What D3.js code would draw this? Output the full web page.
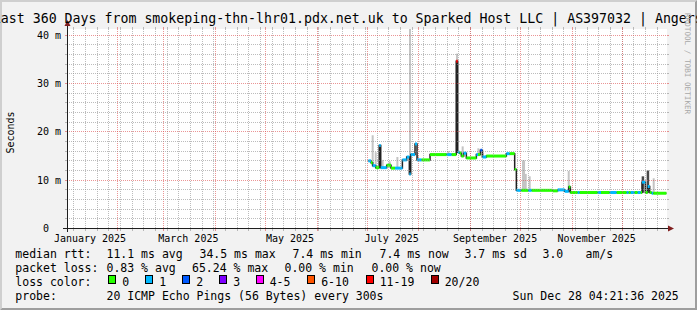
<!DOCTYPE html>
<html>
  <head>
    <meta charset="utf-8">
    <title>smokeping</title>
    <script src="https://d3js.org/d3.v7.min.js"></script>
    <style>
      body { margin: 0; }
      svg { display: block; }
      text { font-family: "DejaVu Sans Mono", monospace; fill: #000; white-space: pre; }
    </style>
  </head>
  <body>
    <svg width="697" height="310"></svg>

  <script>
    // time span of the graph
    var startTime = "2025-01-02 04:21:36",
        endTime = "2025-12-28 04:21:36";

    // median rtt (ms) and loss class (index into lossColors) per sample
    var medDates = ["2025-07-02 00","2025-07-03 14","2025-07-04 14","2025-07-06 10","2025-07-08 12","2025-07-09 10",
      "2025-07-13 00","2025-07-15 14","2025-07-18 00","2025-07-22 10","2025-07-25 00","2025-07-26 14","2025-07-27 10",
      "2025-07-30 00","2025-07-31 05","2025-08-03 00","2025-08-08 00","2025-08-18 00","2025-08-21 00","2025-08-23 17",
      "2025-08-24 15","2025-08-25 19","2025-08-26 19","2025-08-28 05","2025-08-29 19","2025-09-04 19","2025-09-05 19",
      "2025-09-07 05","2025-09-08 10","2025-09-10 19","2025-09-22 19","2025-09-24 19","2025-09-27 19","2025-09-28 19",
      "2025-10-01 19","2025-10-06 00","2025-10-08 00","2025-10-20 14","2025-10-23 14","2025-10-27 19","2025-10-30 05",
      "2025-10-31 05","2025-11-04 14","2025-11-05 19","2025-11-16 14","2025-11-18 14","2025-11-23 19","2025-11-28 00",
      "2025-12-04 00","2025-12-05 05","2025-12-06 10","2025-12-08 19","2025-12-10 14","2025-12-12 10","2025-12-13 05",
      "2025-12-15 05","2025-12-16 14","2025-12-17 19","2025-12-19 00","2025-12-20 00","2025-12-27 20"];
    var medValues = [14.0,13.6,13.0,12.6,17.2,12.6,
      13.1,12.5,12.5,14.2,14.8,11.3,15.3,
      17.5,14.2,14.2,15.3,15.3,15.3,34.6,
      15.8,15.6,15.0,15.6,14.6,15.3,15.3,
      16.2,14.8,15.0,15.5,15.5,12.2,7.9,
      7.9,7.9,7.9,7.8,8.0,7.7,8.6,
      7.45,7.45,7.45,7.45,7.45,7.45,7.45,
      7.45,7.45,7.45,7.45,7.45,7.45,9.6,
      7.45,8.7,7.45,7.3,7.3,7.3];
    var medLoss = [1,0,1,0,1,1,
      0,0,1,1,1,1,1,
      1,1,0,0,1,0,6,
      1,0,0,1,0,1,0,
      2,1,0,1,0,0,1,
      0,1,0,0,1,1,0,
      0,1,0,1,0,1,0,
      1,0,1,0,1,0,1,
      0,1,0,1,0,0];

    // smoke: spread of the single pings
    var smokeDates = ["2025-07-04 14","2025-07-06 10","2025-07-10 14","2025-07-14 19","2025-07-19 10","2025-07-27 00",
      "2025-07-31 14","2025-08-17 10","2025-08-19 00","2025-08-24 04","2025-08-27 14","2025-09-06 00","2025-09-08 19",
      "2025-10-02 19","2025-10-03 10","2025-10-04 10","2025-10-06 19","2025-10-30 05","2025-12-20 05"];
    var smokeLow = [13.0,12.6,12.6,12.5,12.5,11.0,14.2,15.3,15.3,15.8,15.0,15.3,14.8,7.9,7.9,7.9,7.9,7.5,7.3];
    var smokeHigh = [19.3,15.8,14.2,13.9,14.8,41.3,15.1,15.6,16.0,36.2,17.0,16.6,15.7,14.1,14.1,11.3,10.8,11.9,10.4];
    var darkDates = ["2025-12-13 14","2025-12-16 14"];
    var darkLow = [7.4,7.4];
    var darkHigh = [10.8,12.0];

    var lossLabels = ["0","1","2","3","4-5","6-10","11-19","20/20"];
    var lossColors = ["#26ff00","#00b8ff","#0059ff","#7e00ff","#ff00ff","#ff5500","#ff0000","#a00000"];

    var yTickValues = [0,10,20,30,40],
        yTickLabels = ["0  ","10 m","20 m","30 m","40 m"];
    var xTickLabels = ["January 2025","March 2025","May 2025","July 2025","September 2025","November 2025"];

    var rttStats = ["11.1 ms avg","34.5 ms max","7.4 ms min","7.4 ms now","3.7 ms sd","3.0","am/s"];
    var lossStats = ["0.83 % avg","65.24 % max","0.00 % min","0.00 % now"];

    var parseHour = d3.timeParse("%Y-%m-%d %H"),
        parseFull = d3.timeParse("%Y-%m-%d %H:%M:%S"),
        parseLabel = d3.timeParse("%B %Y");

    var svg = d3.select("svg"),
        W = 697, H = 310,
        plotLeft = 67, plotRight = 667, plotTop = 29, plotBottom = 228.5;

    var xScale = d3.scaleTime()
          .domain([parseFull(startTime), parseFull(endTime)])
          .range([plotLeft, plotRight]),
        yScale = d3.scaleLinear().domain([0, 41.3]).range([plotBottom, plotTop]);

    // background with the 3d frame
    svg.append("rect").attr("width", W).attr("height", H).attr("fill", "#f2f2f2");
    svg.append("path").attr("d", "M0,0H697L695,2H2V308L0,310Z").attr("fill", "#cfcfcf");
    svg.append("path").attr("d", "M697,0V310H0L2,308H695V2Z").attr("fill", "#9e9e9e");
    svg.append("rect")
       .attr("x", plotLeft).attr("y", plotTop)
       .attr("width", plotRight - plotLeft).attr("height", plotBottom - plotTop)
       .attr("fill", "#fff");

    var g = svg.append("g");

    // smoke
    g.selectAll(".smoke")
     .data(smokeDates)
     .enter().append("rect")
     .attr("class", "smoke")
     .attr("x", function(d) { return xScale(parseHour(d)) - 1; })
     .attr("y", function(d, i) { return yScale(smokeHigh[i]); })
     .attr("width", 2)
     .attr("height", function(d, i) { return yScale(smokeLow[i]) - yScale(smokeHigh[i]); })
     .attr("fill", "#c4c4c4");

    g.selectAll(".dark")
     .data(darkDates)
     .enter().append("rect")
     .attr("class", "dark")
     .attr("x", function(d) { return xScale(parseHour(d)) - 1; })
     .attr("y", function(d, i) { return yScale(darkHigh[i]); })
     .attr("width", 2.5)
     .attr("height", function(d, i) { return yScale(darkLow[i]) - yScale(darkHigh[i]); })
     .attr("fill", "#4a4a4a");

    // median line: dark steps, then coloured by loss
    var median = medDates.map(function(d, i) {
      return { date: parseHour(d), value: medValues[i], loss: medLoss[i] };
    });

    var stepLine = d3.line()
        .x(function(d) { return xScale(d.date); })
        .y(function(d) { return yScale(d.value); })
        .curve(d3.curveStepAfter);

    g.append("path")
     .datum(median)
     .attr("d", stepLine)
     .attr("fill", "none")
     .attr("stroke", "#202020")
     .attr("stroke-width", 1.5);

    g.selectAll(".med")
     .data(median.slice(0, -1))
     .enter().append("line")
     .attr("class", "med")
     .attr("x1", function(d) { return xScale(d.date); })
     .attr("x2", function(d, i) { return xScale(median[i + 1].date); })
     .attr("y1", function(d) { return yScale(d.value); })
     .attr("y2", function(d) { return yScale(d.value); })
     .attr("stroke", function(d) { return lossColors[d.loss]; })
     .attr("stroke-width", 3);

    // grid on top, like rrdtool
    var minorColor = "rgba(143,143,143,0.6)",
        majorColor = "rgba(222,79,79,0.6)";
    var grid = svg.append("g").attr("shape-rendering", "crispEdges");

    var weeks = d3.timeMonday.range(xScale.domain()[0], xScale.domain()[1]),
        months = d3.timeMonth.range(xScale.domain()[0], xScale.domain()[1]);

    function vLines(dates, color) {
      dates.forEach(function(d) {
        var x = Math.round(xScale(d)) + 0.5;
        grid.append("line").attr("x1", x).attr("x2", x).attr("y1", plotTop).attr("y2", plotBottom)
            .attr("stroke", color).attr("stroke-dasharray", "1,1");
        grid.append("line").attr("x1", x).attr("x2", x).attr("y1", plotBottom).attr("y2", plotBottom + 2)
            .attr("stroke", color);
        grid.append("line").attr("x1", x).attr("x2", x).attr("y1", plotTop - 2).attr("y2", plotTop)
            .attr("stroke", color);
      });
    }

    function hLines(values, color) {
      values.forEach(function(v) {
        var y = Math.round(yScale(v) - 0.5) + 0.5;
        grid.append("line").attr("x1", plotLeft).attr("x2", plotRight).attr("y1", y).attr("y2", y)
            .attr("stroke", color).attr("stroke-dasharray", "1,1");
        grid.append("line").attr("x1", plotLeft - 2).attr("x2", plotLeft).attr("y1", y).attr("y2", y)
            .attr("stroke", color);
        grid.append("line").attr("x1", plotRight).attr("x2", plotRight + 2).attr("y1", y).attr("y2", y)
            .attr("stroke", color);
      });
    }

    vLines(weeks, minorColor);
    vLines(months, majorColor);
    hLines(d3.range(2, 41, 2).filter(function(v) { return v % 10 != 0; }), minorColor);
    hLines(yTickValues.slice(1), majorColor);

    // axes and arrows
    svg.append("line")
       .attr("x1", plotLeft - 4).attr("x2", plotRight + 2)
       .attr("y1", plotBottom).attr("y2", plotBottom)
       .attr("stroke", "#1f1f1f").attr("shape-rendering", "crispEdges");
    svg.append("line")
       .attr("x1", plotLeft + 0.5).attr("x2", plotLeft + 0.5)
       .attr("y1", plotBottom + 3).attr("y2", plotTop - 4)
       .attr("stroke", "#1f1f1f").attr("shape-rendering", "crispEdges");
    svg.append("path")
       .attr("d", "M" + (plotRight + 7) + "," + plotBottom + "L" + (plotRight + 1) + "," + (plotBottom - 3) +
                  "V" + (plotBottom + 3) + "Z")
       .attr("fill", "#801f1f");
    svg.append("path")
       .attr("d", "M" + (plotLeft + 0.5) + "," + (plotTop - 9) + "L" + (plotLeft - 2.5) + "," + (plotTop - 3) +
                  "H" + (plotLeft + 3.5) + "Z")
       .attr("fill", "#801f1f");

    // tick labels
    svg.selectAll(".ylab")
       .data(yTickValues)
       .enter().append("text")
       .attr("class", "ylab")
       .attr("x", 61)
       .attr("y", function(d) { return yScale(d) + 3.5; })
       .attr("text-anchor", "end")
       .attr("font-size", "10px")
       .text(function(d, i) { return yTickLabels[i]; });

    svg.selectAll(".xlab")
       .data(xTickLabels)
       .enter().append("text")
       .attr("class", "xlab")
       .attr("x", function(d) { return xScale(d3.timeDay.offset(parseLabel(d), 15)); })
       .attr("y", 241.7)
       .attr("text-anchor", "middle")
       .attr("font-size", "10px")
       .text(function(d) { return d; });

    svg.append("text")
       .attr("transform", "translate(14,132.5) rotate(-90)")
       .attr("text-anchor", "middle")
       .attr("font-size", "10px")
       .text("Seconds");

    // title, clipped by the window like the original
    svg.append("text")
       .attr("x", -7.2)
       .attr("y", 23.3)
       .attr("font-size", "13.25px")
       .text("Last 360 Days from smokeping-thn-lhr01.pdx.net.uk to Sparked Host LLC | AS397032 | Angers");

    svg.append("text")
       .attr("transform", "translate(685.3,13) rotate(90)")
       .attr("font-size", "7.65px")
       .style("fill", "#a8a8a8")
       .text("RRDTOOL / TOBI OETIKER");

    // legend
    var legend = svg.append("g").attr("font-size", "11.5px"),
        rows = [258.4, 272.1, 285.9, 299.7];

    legend.append("text").attr("x", 15.3).attr("y", rows[0]).text("median rtt:");
    [106.5, 199.5, 292.5, 379.5, 464.5, 542.5, 585.5].forEach(function(x, i) {
      legend.append("text").attr("x", x).attr("y", rows[0]).text(rttStats[i]);
    });

    legend.append("text").attr("x", 15.3).attr("y", rows[1]).text("packet loss:");
    [106.5, 192, 284.5, 371.5].forEach(function(x, i) {
      legend.append("text").attr("x", x).attr("y", rows[1]).text(lossStats[i]);
    });

    legend.append("text").attr("x", 15.3).attr("y", rows[2]).text("loss color:");
    [108.5, 145.5, 182.5, 219.5, 256, 307.5, 366, 431].forEach(function(x, i) {
      legend.append("rect")
            .attr("x", x).attr("y", 275.5).attr("width", 7).attr("height", 8)
            .attr("fill", lossColors[i]).attr("stroke", "#000")
            .attr("shape-rendering", "crispEdges");
      legend.append("text").attr("x", x + 13.7).attr("y", rows[2]).text(lossLabels[i]);
    });

    legend.append("text").attr("x", 15.3).attr("y", rows[3]).text("probe:");
    legend.append("text").attr("x", 106.5).attr("y", rows[3]).text("20 ICMP Echo Pings (56 Bytes) every 300s");
    legend.append("text").attr("x", 512.6).attr("y", rows[3]).text("Sun Dec 28 04:21:36 2025");
  </script>
  </body>
</html>
